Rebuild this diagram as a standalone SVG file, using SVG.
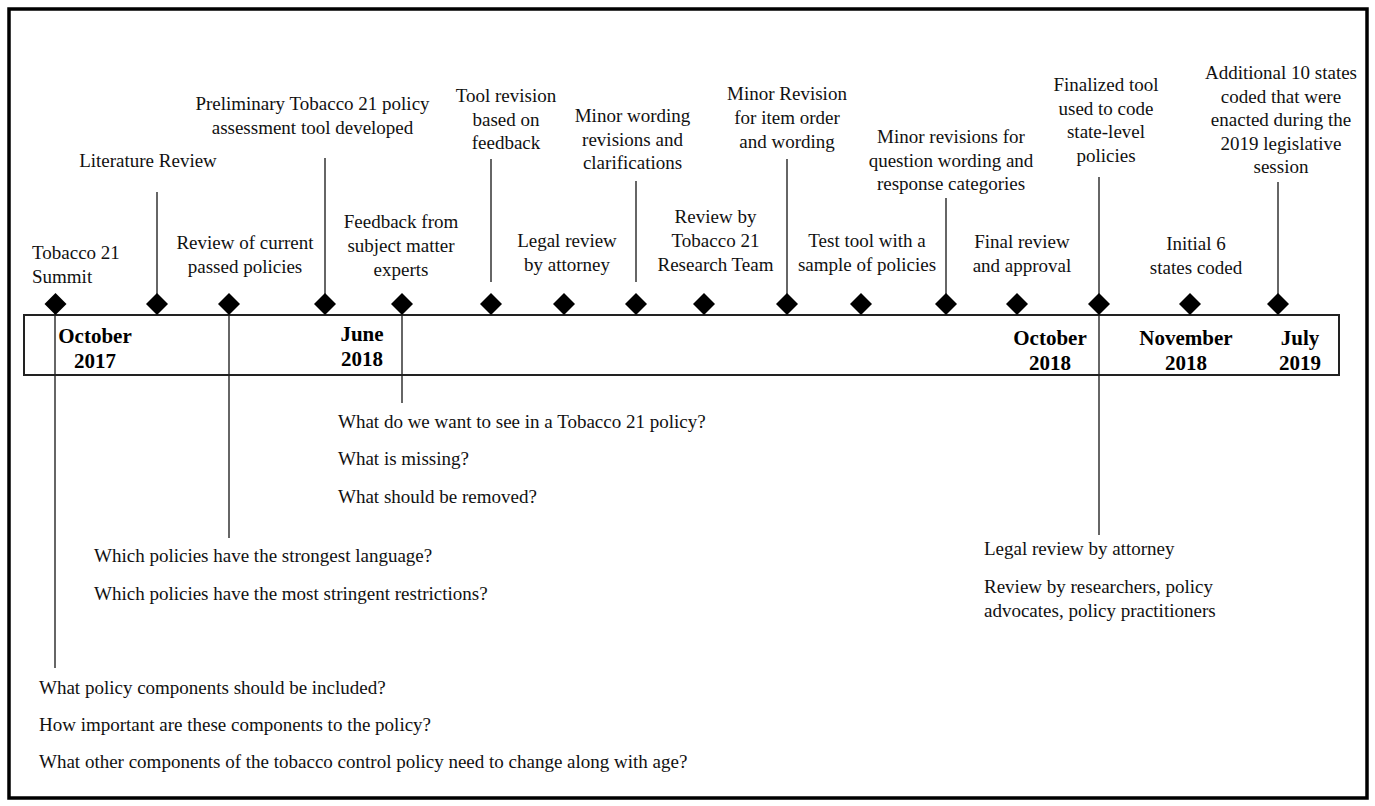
<svg xmlns="http://www.w3.org/2000/svg" width="1375" height="806" viewBox="0 0 1375 806">
<style>
text{font-family:"Liberation Serif","Times New Roman",serif;font-size:19px;fill:#111}
.c{text-anchor:middle}
.d{font-weight:bold;font-size:21px;text-anchor:middle;fill:#000}
.ln{stroke:#333;stroke-width:1.5;fill:none}
.dm{fill:#000}
</style>
<defs>
<path id="dia" d="M0,-11 L11,0 L0,11 L-11,0 Z"/>
</defs>
<rect x="0" y="0" width="1375" height="806" fill="#fff"/>
<rect id="frame" x="9" y="9" width="1358" height="789" fill="none" stroke="#000" stroke-width="3.5"/>
<g id="connectors">
<line class="ln" x1="55" y1="304" x2="55" y2="668"/>
<line class="ln" x1="157" y1="192" x2="157" y2="304"/>
<line class="ln" x1="229" y1="304" x2="229" y2="538"/>
<line class="ln" x1="325" y1="158" x2="325" y2="304"/>
<line class="ln" x1="402" y1="304" x2="402" y2="403"/>
<line class="ln" x1="491" y1="159" x2="491" y2="282"/>
<line class="ln" x1="636" y1="181" x2="636" y2="282"/>
<line class="ln" x1="787" y1="159" x2="787" y2="304"/>
<line class="ln" x1="946" y1="198" x2="946" y2="304"/>
<line class="ln" x1="1099" y1="177" x2="1099" y2="535"/>
<line class="ln" x1="1278" y1="182" x2="1278" y2="304"/>
</g>
<g id="timeline-bar">
<rect x="24" y="315" width="1315" height="60" fill="none" stroke="#222" stroke-width="2"/>
<text class="d" x="95" y="343">October</text>
<text class="d" x="95" y="368">2017</text>
<text class="d" x="362" y="341">June</text>
<text class="d" x="362" y="366">2018</text>
<text class="d" x="1050" y="345">October</text>
<text class="d" x="1050" y="370">2018</text>
<text class="d" x="1186" y="345">November</text>
<text class="d" x="1186" y="370">2018</text>
<text class="d" x="1300" y="345">July</text>
<text class="d" x="1300" y="370">2019</text>
</g>
<g id="n1"><use href="#dia" x="55.5" y="304" class="dm"/><text x="32" y="259">Tobacco 21</text><text x="32" y="283">Summit</text>
<text x="39" y="694">What policy components should be included?</text>
<text x="39" y="731">How important are these components to the policy?</text>
<text x="39" y="768">What other components of the tobacco control policy need to change along with age?</text></g>
<g id="n2"><use href="#dia" x="157" y="304" class="dm"/><text class="c" x="148" y="167">Literature Review</text></g>
<g id="n3"><use href="#dia" x="229" y="304" class="dm"/><text class="c" x="245" y="249">Review of current</text><text class="c" x="245" y="273">passed policies</text>
<text x="94" y="562">Which policies have the strongest language?</text>
<text x="94" y="600">Which policies have the most stringent restrictions?</text></g>
<g id="n4"><use href="#dia" x="325" y="304" class="dm"/><text class="c" x="312.5" y="110">Preliminary Tobacco 21 policy</text><text class="c" x="312.5" y="134">assessment tool developed</text></g>
<g id="n5"><use href="#dia" x="402" y="304" class="dm"/><text class="c" x="401" y="228">Feedback from</text><text class="c" x="401" y="252">subject matter</text><text class="c" x="401" y="276">experts</text>
<text x="338" y="428">What do we want to see in a Tobacco 21 policy?</text>
<text x="338" y="465">What is missing?</text>
<text x="338" y="503">What should be removed?</text></g>
<g id="n6"><use href="#dia" x="491" y="304" class="dm"/><text class="c" x="506" y="102">Tool revision</text><text class="c" x="506" y="126">based on</text><text class="c" x="506" y="149">feedback</text></g>
<g id="n7"><use href="#dia" x="564" y="304" class="dm"/><text class="c" x="567" y="247">Legal review</text><text class="c" x="567" y="271">by attorney</text></g>
<g id="n8"><use href="#dia" x="636" y="304" class="dm"/><text class="c" x="632.5" y="122">Minor wording</text><text class="c" x="632.5" y="146">revisions and</text><text class="c" x="632.5" y="169">clarifications</text></g>
<g id="n9"><use href="#dia" x="704" y="304" class="dm"/><text class="c" x="715.5" y="223">Review by</text><text class="c" x="715.5" y="247">Tobacco 21</text><text class="c" x="715.5" y="271">Research Team</text></g>
<g id="n10"><use href="#dia" x="787" y="304" class="dm"/><text class="c" x="787" y="100">Minor Revision</text><text class="c" x="787" y="124">for item order</text><text class="c" x="787" y="148">and wording</text></g>
<g id="n11"><use href="#dia" x="861" y="304" class="dm"/><text class="c" x="867" y="247">Test tool with a</text><text class="c" x="867" y="271">sample of policies</text></g>
<g id="n12"><use href="#dia" x="946" y="304" class="dm"/><text class="c" x="951" y="143">Minor revisions for</text><text class="c" x="951" y="167">question wording and</text><text class="c" x="951" y="190">response categories</text></g>
<g id="n13"><use href="#dia" x="1017" y="304" class="dm"/><text class="c" x="1022" y="248">Final review</text><text class="c" x="1022" y="272">and approval</text></g>
<g id="n14"><use href="#dia" x="1099" y="304" class="dm"/><text class="c" x="1106" y="91">Finalized tool</text><text class="c" x="1106" y="115">used to code</text><text class="c" x="1106" y="138">state-level</text><text class="c" x="1106" y="162">policies</text>
<text x="984" y="555">Legal review by attorney</text>
<text x="984" y="593">Review by researchers, policy</text>
<text x="984" y="617">advocates, policy practitioners</text></g>
<g id="n15"><use href="#dia" x="1190" y="304" class="dm"/><text class="c" x="1196" y="250">Initial 6</text><text class="c" x="1196" y="274">states coded</text></g>
<g id="n16"><use href="#dia" x="1278" y="304" class="dm"/><text class="c" x="1281" y="79">Additional 10 states</text><text class="c" x="1281" y="103">coded that were</text><text class="c" x="1281" y="126">enacted during the</text><text class="c" x="1281" y="150">2019 legislative</text><text class="c" x="1281" y="173">session</text></g>
</svg>
